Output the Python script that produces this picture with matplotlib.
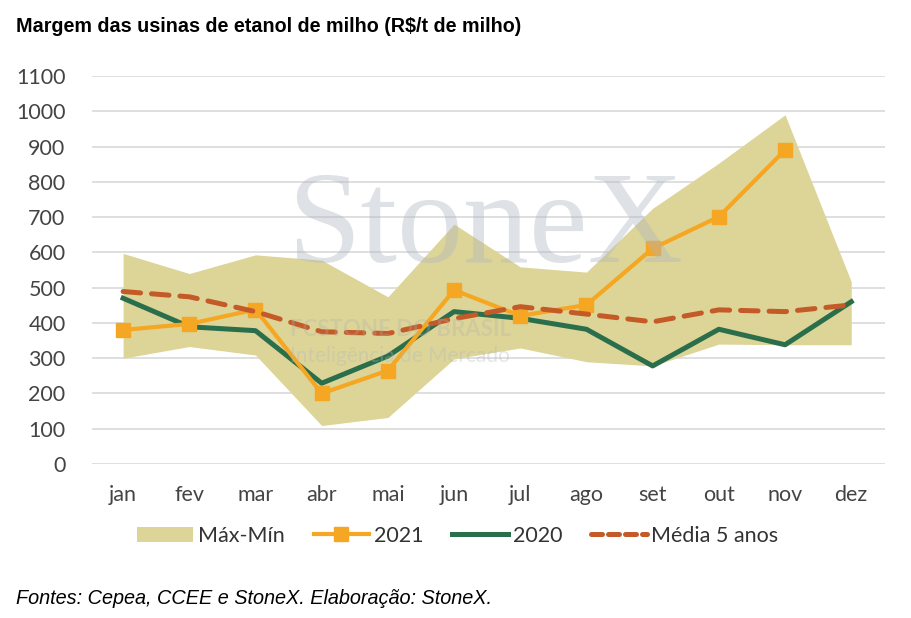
import matplotlib.pyplot as plt
import numpy as np
from matplotlib.lines import Line2D
from matplotlib.patches import Patch

meses = ["jan", "fev", "mar", "abr", "mai", "jun", "jul", "ago", "set", "out", "nov", "dez"]

band_max = [597, 540, 593, 578, 474, 680, 559, 544, 725, 853, 990, 517]
band_min = [300, 333, 309, 109, 132, 298, 329, 290, 278, 340, 338, 338]

y2021 = [380, 397, 438, 200, 265, 493, 420, 451, 611, 701, 890]
y2020 = [470, 389, 378, 229, 306, 432, 413, 382, 278, 382, 338, 460]
media = [489, 474, 432, 375, 370, 412, 446, 425, 403, 437, 432, 451]

c_band = "#ddd597"
c_2021 = "#f5a623"
c_2020 = "#2b6e4c"
c_media = "#c45a27"

fig = plt.figure(figsize=(9.11, 6.18), dpi=100)
ax = fig.add_axes([92 / 911, 1 - 464 / 618, 793 / 911, 388 / 618])

x = np.arange(len(meses))

ax.fill_between(x, band_min, band_max, color=c_band, lw=0, zorder=2)
ax.plot(x[:len(y2021)], y2021, color=c_2021, lw=3, marker="s", ms=9.5,
        solid_joinstyle="miter", zorder=4)
ax.plot(x, y2020, color=c_2020, lw=3.6, zorder=3)
ax.plot(x, media, color=c_media, lw=3.6, dashes=(3.5, 2.2),
        dash_capstyle="round", zorder=5)

ax.set_xlim(-0.47, 11.51)
ax.set_ylim(0, 1100)
ax.set_yticks(np.arange(0, 1101, 100))
ax.set_xticks(x)
ax.set_xticklabels(meses)
ax.grid(axis="y", color="#dcdcdc", lw=1.3, zorder=1)
ax.set_axisbelow(True)
for s in ax.spines.values():
    s.set_visible(False)
ax.tick_params(axis="both", length=0, labelsize=15.5, colors="#444444",
               labelfontfamily="Lato")
ax.tick_params(axis="x", pad=15)
ax.tick_params(axis="y", pad=19)

# watermark
fig.text(485 / 911, 1 - 262 / 618, "StoneX", family="Liberation Serif",
         fontsize=95, color="#aeb6c0", alpha=0.4, ha="center", va="baseline",
         zorder=10)
fig.text(290 / 911, 1 - 336 / 618, "FCSTONE DO BRASIL", family="Lato",
         fontsize=16, fontweight="bold", color="#b0b0b0", alpha=0.3,
         ha="left", va="baseline", zorder=10)
fig.text(290 / 911, 1 - 362 / 618, "Inteligência de Mercado", family="Lato",
         fontsize=15, color="#b0b8c0", alpha=0.35, ha="left", va="baseline",
         zorder=10)

handles = [
    Patch(facecolor=c_band, edgecolor="none"),
    Line2D([], [], color=c_2021, lw=3, marker="s", ms=9.5),
    Line2D([], [], color=c_2020, lw=3.6),
    Line2D([], [], color=c_media, lw=3.6, dashes=(2.2, 1.2), dash_capstyle="round"),
]
labels = ["Máx-Mín", "2021", "2020", "Média 5 anos"]
fig.legend(handles, labels, loc="center", bbox_to_anchor=(458 / 911, 1 - 536 / 618),
           ncol=4, frameon=False, prop={"family": "Lato", "size": 15.5},
           handlelength=2.6, handletextpad=0.2, columnspacing=1.35,
           labelcolor="#333333")

fig.text(16 / 911, 1 - 27 / 618, "Margem das usinas de etanol de milho (R$/t de milho)",
         family="Liberation Sans", fontweight="bold", fontsize=14.2,
         ha="left", va="center")
fig.text(16 / 911, 1 - 598 / 618, "Fontes: Cepea, CCEE e StoneX. Elaboração: StoneX.",
         family="Liberation Sans", style="italic", fontsize=14.3,
         ha="left", va="center")

fig.savefig("out.png", dpi=100)
